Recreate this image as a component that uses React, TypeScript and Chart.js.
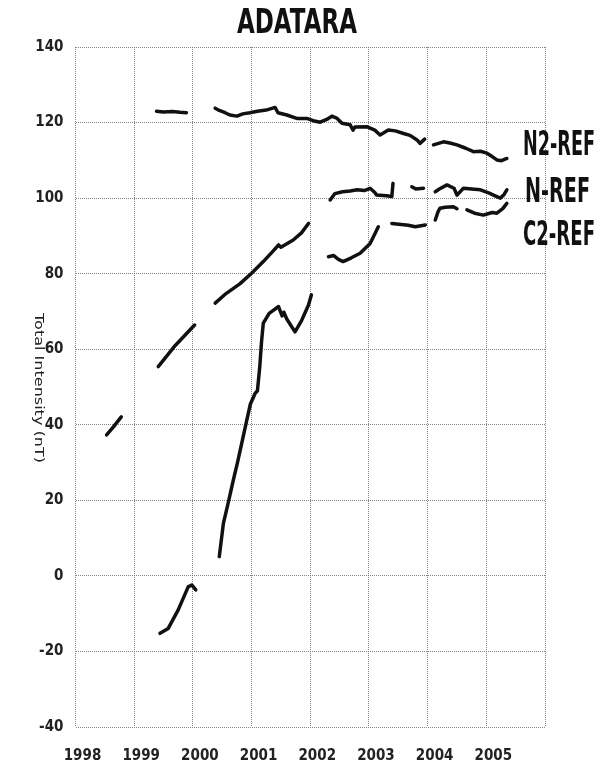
import React, { useEffect, useRef } from "react";
import { Chart, registerables } from "chart.js";

Chart.register(...registerables);

// ---- data (years as decimal, values in nT; null = gap in record) ----
const xTickYears = [1998, 1999, 2000, 2001, 2002, 2003, 2004, 2005, 2006];
const yTickValues = [-40, -20, 0, 20, 40, 60, 80, 100, 120, 140];
const seriesLabels = ["N2-REF", "N-REF", "C2-REF"];

const n2Years = [
  1999.38, 1999.5, 1999.65, 1999.78, 1999.89, 2000.1,
  2000.38, 2000.45, 2000.55, 2000.63, 2000.75, 2000.85, 2000.97, 2001.1, 2001.25, 2001.4,
  2001.45, 2001.6, 2001.77, 2001.94, 2002.05, 2002.17, 2002.3, 2002.37, 2002.45, 2002.54,
  2002.68, 2002.73, 2002.76, 2002.96, 2003.1, 2003.19, 2003.33, 2003.45, 2003.59, 2003.7,
  2003.82, 2003.87, 2003.95, 2004.02,
  2004.1, 2004.27, 2004.38, 2004.5, 2004.65, 2004.78, 2004.9, 2005.01, 2005.1, 2005.18,
  2005.26, 2005.35,
];
const n2Values = [
  123.0, 122.8, 122.9, 122.7, 122.6, null,
  123.8, 123.2, 122.6, 122.0, 121.7, 122.3, 122.6, 123.0, 123.3, 124.0,
  122.6, 122.0, 121.1, 121.1, 120.5, 120.1, 121.0, 121.7, 121.2, 119.8,
  119.4, 118.0, 118.8, 118.9, 118.0, 116.7, 118.0, 117.8, 117.1, 116.6,
  115.4, 114.5, 115.6, null,
  114.1, 114.9, 114.6, 114.1, 113.2, 112.3, 112.4, 111.9, 111.0, 110.1,
  109.9, 110.5,
];

const nYears = [
  2002.34, 2002.42, 2002.55, 2002.68, 2002.8, 2002.92, 2003.02, 2003.1, 2003.13, 2003.3,
  2003.39, 2003.41, 2003.55,
  2003.73, 2003.8, 2003.93, 2004.02,
  2004.13, 2004.2, 2004.33, 2004.45, 2004.5, 2004.61, 2004.75, 2004.9, 2005.05, 2005.15,
  2005.24, 2005.3, 2005.35,
];
const nValues = [
  99.5, 101.2, 101.7, 101.9, 102.2, 102.0, 102.6, 101.5, 100.8, 100.6,
  100.4, 103.9, null,
  103.0, 102.4, 102.6, null,
  101.7, 102.4, 103.5, 102.6, 100.8, 102.6, 102.4, 102.2, 101.3, 100.6,
  100.0, 100.9, 102.2,
];

const c2Years = [
  2002.31, 2002.4, 2002.48, 2002.56, 2002.7, 2002.85, 2003.02, 2003.16, 2003.28,
  2003.39, 2003.55, 2003.67, 2003.79, 2003.96, 2004.04,
  2004.13, 2004.18, 2004.21, 2004.3, 2004.44, 2004.5, 2004.58,
  2004.67, 2004.8, 2004.95, 2005.1, 2005.18, 2005.28, 2005.35,
];
const c2Values = [
  84.5, 84.8, 83.8, 83.2, 84.2, 85.4, 88.0, 92.4, null,
  93.3, 93.0, 92.8, 92.4, 92.9, null,
  94.2, 96.5, 97.3, 97.6, 97.7, 97.2, null,
  96.9, 96.0, 95.5, 96.2, 96.0, 97.2, 98.6,
];

const earlyUpperYears = [
  1998.53, 1998.65, 1998.78, 1999.0,
  1999.41, 1999.7, 2000.03, 2000.2,
  2000.38, 2000.57, 2000.8, 2001.0, 2001.2, 2001.35, 2001.46, 2001.5, 2001.71, 2001.85,
  2001.97,
];
const earlyUpperValues = [
  37.3, 39.5, 42.1, null,
  55.4, 61.0, 66.4, null,
  72.2, 74.8, 77.3, 80.1, 83.2, 85.7, 87.6, 87.0, 88.9, 90.8,
  93.3,
];

const earlyLowerYears = [
  1999.44, 1999.58, 1999.75, 1999.92, 1999.98, 2000.05, 2000.25,
  2000.45, 2000.52, 2000.6, 2000.69, 2000.76, 2000.92, 2000.98, 2001.06, 2001.1, 2001.14,
  2001.17, 2001.2, 2001.3, 2001.46, 2001.52, 2001.55, 2001.6, 2001.74, 2001.85, 2001.97,
  2002.02,
];
const earlyLowerValues = [
  -15.2, -13.9, -9.0, -2.9, -2.4, -3.7, null,
  5.1, 13.9, 19.2, 25.4, 30.0, 41.3, 45.5, 48.3, 49.0, 55.4,
  62.0, 66.9, 69.5, 71.3, 68.8, 69.8, 68.0, 64.6, 67.5, 71.7,
  74.4,
];

const toPoints = (xs: number[], ys: (number | null)[]) =>
  xs.map((x, i) => ({ x, y: ys[i] }));

const TICK_FONT = "'DejaVu Sans Condensed', 'Liberation Sans Narrow', 'DejaVu Sans', sans-serif";

function drawFitted(
  ctx: CanvasRenderingContext2D,
  text: string,
  left: number,
  baseline: number,
  width: number,
  font: string
) {
  ctx.save();
  ctx.font = font;
  ctx.textAlign = "left";
  ctx.textBaseline = "alphabetic";
  const w = ctx.measureText(text).width;
  ctx.translate(left, baseline);
  ctx.scale(width / w, 1);
  ctx.fillText(text, 0, 0);
  ctx.restore();
}

const textPlugin = {
  id: "textPlugin",
  afterDraw(chart: any) {
    const ctx: CanvasRenderingContext2D = chart.ctx;
    ctx.save();
    ctx.fillStyle = "#111";
    drawFitted(ctx, "ADATARA", 237, 33, 120, "bold 33px 'DejaVu Sans', sans-serif");
    const labelPos = [
      { left: 523, base: 155, width: 72 },
      { left: 525, base: 202, width: 65 },
      { left: 523, base: 245, width: 72 },
    ];
    seriesLabels.forEach((t, i) => {
      const p = labelPos[i];
      drawFitted(ctx, t, p.left, p.base, p.width, "bold 33px 'DejaVu Sans', sans-serif");
    });
    // y-axis title, reading top to bottom
    ctx.save();
    ctx.translate(38, 388);
    ctx.rotate(Math.PI / 2);
    ctx.font = "12px 'DejaVu Sans', sans-serif";
    ctx.fillStyle = "#222";
    const t = "Total Intensity (nT)";
    const w = ctx.measureText(t).width;
    ctx.scale(150 / w, 1);
    ctx.textAlign = "center";
    ctx.textBaseline = "middle";
    ctx.fillText(t, 0, 0);
    ctx.restore();
    ctx.restore();
  },
};

export default function App() {
  const canvasRef = useRef<HTMLCanvasElement | null>(null);

  useEffect(() => {
    if (!canvasRef.current) return;
    const lineStyle = {
      borderColor: "#111",
      borderWidth: 3.5,
      borderJoinStyle: "round",
      borderCapStyle: "round",
      pointRadius: 0,
      fill: false,
      spanGaps: false,
      tension: 0,
    };
    const chart = new Chart(canvasRef.current, {
      type: "line",
      data: {
        datasets: [
          { label: "N2-REF", data: toPoints(n2Years, n2Values), ...lineStyle },
          { label: "N-REF", data: toPoints(nYears, nValues), ...lineStyle },
          { label: "C2-REF", data: toPoints(c2Years, c2Values), ...lineStyle },
          { label: "early-upper", data: toPoints(earlyUpperYears, earlyUpperValues), ...lineStyle },
          { label: "early-lower", data: toPoints(earlyLowerYears, earlyLowerValues), ...lineStyle },
        ] as any,
      },
      options: {
        animation: false,
        responsive: false,
        maintainAspectRatio: false,
        layout: { padding: { left: 0, right: 63, top: 47, bottom: 0 } },
        plugins: {
          legend: { display: false },
          title: { display: false },
          tooltip: { enabled: false },
        },
        scales: {
          x: {
            type: "linear",
            min: xTickYears[0],
            max: xTickYears[xTickYears.length - 1],
            afterBuildTicks: (scale: any) => {
              scale.ticks = xTickYears.map((v) => ({ value: v }));
            },
            afterFit: (scale: any) => {
              scale.height = 44;
            },
            ticks: {
              padding: 20,
              labelOffset: 7,
              color: "#222",
              font: { family: TICK_FONT, size: 15, weight: "bold" },
              callback: (v: any) => (v === 2006 ? "" : String(v)),
              maxRotation: 0,
              autoSkip: false,
            },
            grid: {
              color: "rgba(110,110,110,0.85)",
              lineWidth: 1,
              drawTicks: false,
            },
            border: { display: false, dash: [1, 1] },
          },
          y: {
            type: "linear",
            min: yTickValues[0],
            max: yTickValues[yTickValues.length - 1],
            afterBuildTicks: (scale: any) => {
              scale.ticks = yTickValues.map((v) => ({ value: v }));
            },
            afterFit: (scale: any) => {
              scale.width = 75.5;
            },
            ticks: {
              padding: 12,
              color: "#222",
              font: { family: TICK_FONT, size: 15, weight: "bold" },
              callback: (v: any) => String(v),
            },
            grid: {
              color: "rgba(110,110,110,0.85)",
              lineWidth: 1,
              drawTicks: false,
            },
            border: { display: false, dash: [1, 1] },
          },
        },
      } as any,
      plugins: [textPlugin],
    });
    return () => chart.destroy();
  }, []);

  return (
    <div style={{ position: "absolute", left: 0, top: 0, width: 608, height: 771, background: "#fff" }}>
      <canvas ref={canvasRef} width={608} height={771} style={{ width: 608, height: 771 }} />
    </div>
  );
}
